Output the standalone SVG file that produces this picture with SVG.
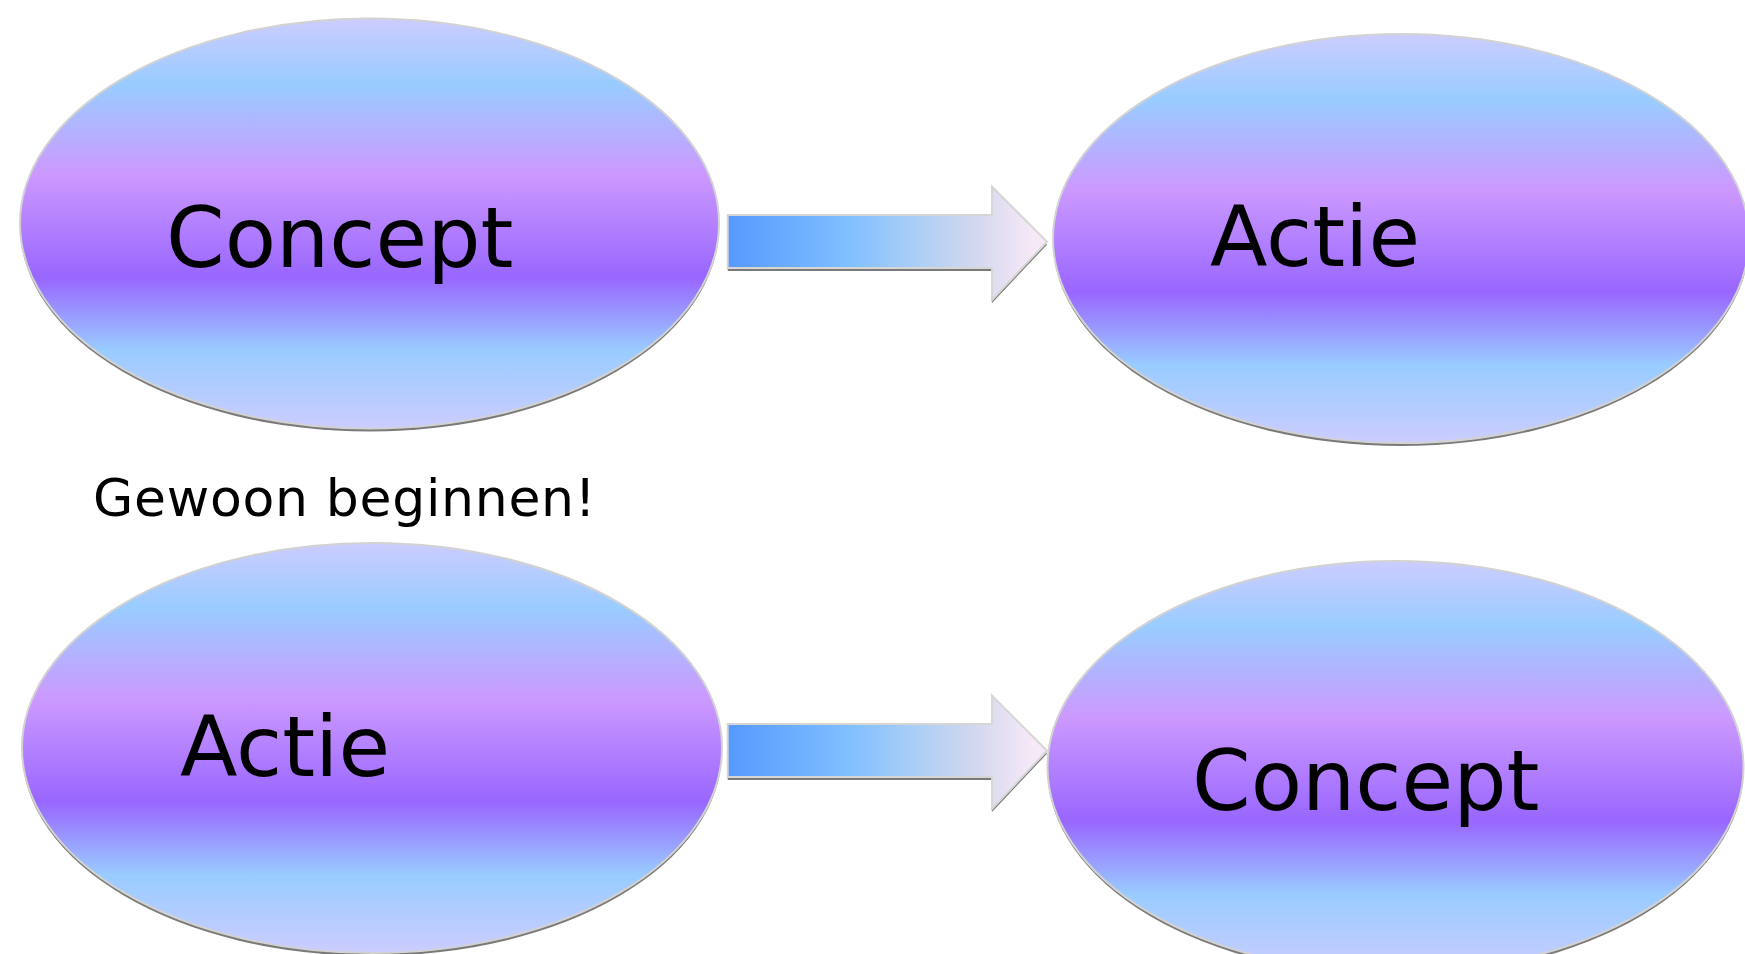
<svg xmlns="http://www.w3.org/2000/svg" width="1745" height="954" viewBox="0 0 1745 954">
  <style>
    .node-shape { fill: url(#ovalGrad); stroke: #d2d2d2; stroke-width: 2; }
    .shadow { fill: #7a7a7a; }
    .arrow-shape { fill: url(#arrowGrad); stroke: #d6d6d6; stroke-width: 2; stroke-linejoin: miter; }
    .big { font-family: "DejaVu Sans", "Verdana", sans-serif; font-size: 84px; fill: #000000; }
    .note { font-family: "DejaVu Sans", "Verdana", sans-serif; font-size: 52px; letter-spacing: 0.7px; fill: #000000; }
  </style>
  <defs>
    <linearGradient id="ovalGrad" x1="0" y1="0" x2="0" y2="1">
      <stop offset="0" stop-color="#ccccff"/>
      <stop offset="0.16" stop-color="#99ccff"/>
      <stop offset="0.38" stop-color="#cc99ff"/>
      <stop offset="0.63" stop-color="#9966ff"/>
      <stop offset="0.81" stop-color="#99ccff"/>
      <stop offset="1" stop-color="#ccccff"/>
    </linearGradient>
    <linearGradient id="arrowGrad" x1="0" y1="0" x2="1" y2="0">
      <stop offset="0" stop-color="#5599ff"/>
      <stop offset="0.38" stop-color="#80bfff"/>
      <stop offset="0.55" stop-color="#a3ccf8"/>
      <stop offset="0.78" stop-color="#d4d8ee"/>
      <stop offset="0.95" stop-color="#f5e8f7"/>
      <stop offset="1" stop-color="#f8eaf8"/>
    </linearGradient>
  </defs>
  <rect x="0" y="0" width="1745" height="954" fill="#ffffff"/>

  <g id="connectors">
    <g id="arrow-top">
      <path class="shadow" d="M727.7,218 L992,218 L992,189.7 L1047,244.7 L992,303 L992,271 L727.7,271 Z"/>
      <path class="arrow-shape" d="M727.7,215 L992,215 L992,186.7 L1047,241.7 L992,300 L992,268 L727.7,268 Z"/>
    </g>
    <g id="arrow-bottom">
      <path class="shadow" d="M727.7,727 L992,727 L992,698.7 L1047,753.7 L992,812 L992,780 L727.7,780 Z"/>
      <path class="arrow-shape" d="M727.7,724 L992,724 L992,695.7 L1047,750.7 L992,809 L992,777 L727.7,777 Z"/>
    </g>
  </g>

  <g id="node-concept-top">
    <ellipse class="shadow" cx="369.5" cy="226.5" rx="349.5" ry="205"/>
    <ellipse class="node-shape" cx="369.5" cy="223.5" rx="349.5" ry="205"/>
    <text class="big" x="166" y="267">Concept</text>
  </g>

  <g id="node-actie-top">
    <ellipse class="shadow" cx="1401" cy="241.5" rx="348" ry="204.5"/>
    <ellipse class="node-shape" cx="1401" cy="238.5" rx="348" ry="204.5"/>
    <text class="big" x="1210" y="266">Actie</text>
  </g>

  <g id="label-gewoon">
    <text class="note" x="93" y="515.5">Gewoon beginnen!</text>
  </g>

  <g id="node-actie-bottom">
    <ellipse class="shadow" cx="372" cy="751" rx="350" ry="205"/>
    <ellipse class="node-shape" cx="372" cy="748" rx="350" ry="205"/>
    <text class="big" x="180" y="776">Actie</text>
  </g>

  <g id="node-concept-bottom">
    <ellipse class="shadow" cx="1395.5" cy="770" rx="348" ry="206"/>
    <ellipse class="node-shape" cx="1395.5" cy="767" rx="348" ry="206"/>
    <text class="big" x="1192" y="809.5">Concept</text>
  </g>
</svg>
